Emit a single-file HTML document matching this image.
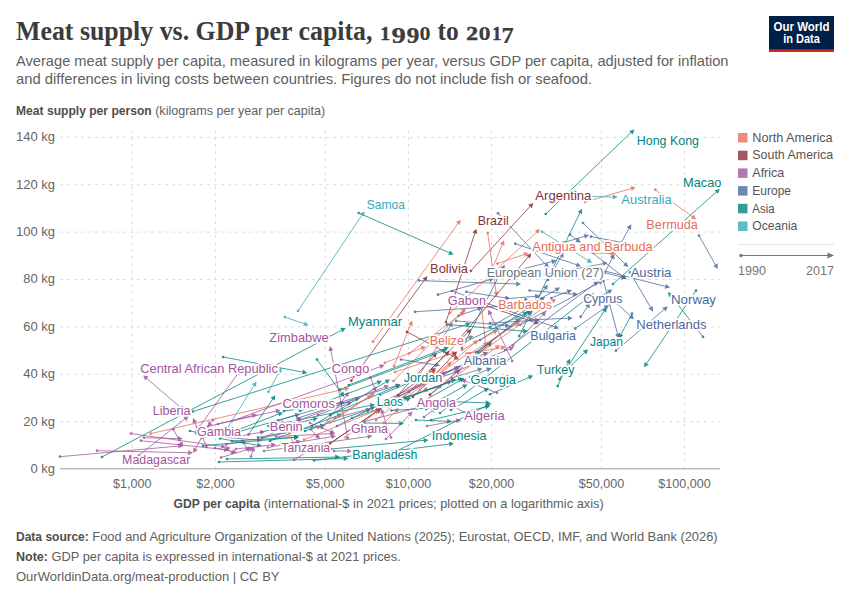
<!DOCTYPE html>
<html><head><meta charset="utf-8"><title>Meat supply vs. GDP per capita</title>
<style>
html,body{margin:0;padding:0;background:#fff;}
body{width:850px;height:600px;overflow:hidden;}
svg{display:block;font-family:"Liberation Sans",sans-serif;}
.t{font-family:"Liberation Serif",serif;}
</style></head><body>
<svg width="850" height="600" viewBox="0 0 850 600">
<rect width="850" height="600" fill="#fff"/>

<text class="t" font-weight="bold" fill="#3c3c3c" lengthAdjust="spacingAndGlyphs" x="16" y="39.6" font-size="26.6" textLength="356.5">Meat supply vs. GDP per capita,</text>
<text class="t" font-weight="bold" fill="#3c3c3c" lengthAdjust="spacingAndGlyphs" x="380.2" y="39.6" font-size="18.4" textLength="9.8" stroke="#3c3c3c" stroke-width="0.55">1</text>
<text class="t" font-weight="bold" fill="#3c3c3c" lengthAdjust="spacingAndGlyphs" x="391.5" y="43.2" font-size="23.8" textLength="14.4" stroke="#3c3c3c" stroke-width="0.2">9</text>
<text class="t" font-weight="bold" fill="#3c3c3c" lengthAdjust="spacingAndGlyphs" x="406.5" y="43.2" font-size="23.8" textLength="13" stroke="#3c3c3c" stroke-width="0.2">9</text>
<text class="t" font-weight="bold" fill="#3c3c3c" lengthAdjust="spacingAndGlyphs" x="419.6" y="39.6" font-size="26.6" textLength="11">o</text>
<text class="t" font-weight="bold" fill="#3c3c3c" lengthAdjust="spacingAndGlyphs" x="437.6" y="39.6" font-size="26.6" textLength="21.2">to</text>
<text class="t" font-weight="bold" fill="#3c3c3c" lengthAdjust="spacingAndGlyphs" x="466.2" y="39.6" font-size="18.4" textLength="11.8" stroke="#3c3c3c" stroke-width="0.55">2</text>
<text class="t" font-weight="bold" fill="#3c3c3c" lengthAdjust="spacingAndGlyphs" x="478.6" y="39.6" font-size="26.6" textLength="12.2">o</text>
<text class="t" font-weight="bold" fill="#3c3c3c" lengthAdjust="spacingAndGlyphs" x="492.2" y="39.6" font-size="18.4" textLength="9" stroke="#3c3c3c" stroke-width="0.55">1</text>
<text class="t" font-weight="bold" fill="#3c3c3c" lengthAdjust="spacingAndGlyphs" x="501.6" y="43.2" font-size="23.8" textLength="12.2" stroke="#3c3c3c" stroke-width="0.2">7</text>
<text x="16" y="66.2" font-size="14.6" fill="#606060" textLength="712.5" lengthAdjust="spacingAndGlyphs">Average meat supply per capita, measured in kilograms per year, versus GDP per capita, adjusted for inflation</text>
<text x="16" y="84.1" font-size="14.6" fill="#606060" textLength="576" lengthAdjust="spacingAndGlyphs">and differences in living costs between countries. Figures do not include fish or seafood.</text>
<rect x="769" y="16" width="65" height="36" fill="#002147"/><rect x="769" y="49.3" width="65" height="2.7" fill="#ce261e"/>
<text x="801.5" y="30.5" font-size="12" font-weight="bold" fill="#fff" text-anchor="middle" textLength="56" lengthAdjust="spacingAndGlyphs">Our World</text>
<text x="801.5" y="42.5" font-size="12" font-weight="bold" fill="#fff" text-anchor="middle" textLength="36.6" lengthAdjust="spacingAndGlyphs">in Data</text>
<text x="16" y="115" font-size="12.8" font-weight="bold" fill="#4e4e4e" textLength="135.7" lengthAdjust="spacingAndGlyphs">Meat supply per person</text>
<text x="155.2" y="115" font-size="12.8" fill="#606060" textLength="170" lengthAdjust="spacingAndGlyphs">(kilograms per year per capita)</text>
<line x1="60" x2="720" y1="137.3" y2="137.3" stroke="#ddd" stroke-width="1" stroke-dasharray="3,4"/>
<text x="55" y="141.2" font-size="13" fill="#666" text-anchor="end">140 kg</text>
<line x1="60" x2="720" y1="184.7" y2="184.7" stroke="#ddd" stroke-width="1" stroke-dasharray="3,4"/>
<text x="55" y="188.6" font-size="13" fill="#666" text-anchor="end">120 kg</text>
<line x1="60" x2="720" y1="232.1" y2="232.1" stroke="#ddd" stroke-width="1" stroke-dasharray="3,4"/>
<text x="55" y="236.0" font-size="13" fill="#666" text-anchor="end">100 kg</text>
<line x1="60" x2="720" y1="279.5" y2="279.5" stroke="#ddd" stroke-width="1" stroke-dasharray="3,4"/>
<text x="55" y="283.4" font-size="13" fill="#666" text-anchor="end">80 kg</text>
<line x1="60" x2="720" y1="326.9" y2="326.9" stroke="#ddd" stroke-width="1" stroke-dasharray="3,4"/>
<text x="55" y="330.8" font-size="13" fill="#666" text-anchor="end">60 kg</text>
<line x1="60" x2="720" y1="374.3" y2="374.3" stroke="#ddd" stroke-width="1" stroke-dasharray="3,4"/>
<text x="55" y="378.2" font-size="13" fill="#666" text-anchor="end">40 kg</text>
<line x1="60" x2="720" y1="421.7" y2="421.7" stroke="#ddd" stroke-width="1" stroke-dasharray="3,4"/>
<text x="55" y="425.6" font-size="13" fill="#666" text-anchor="end">20 kg</text>
<text x="55" y="473.0" font-size="13" fill="#666" text-anchor="end">0 kg</text>
<line x1="132.3" x2="132.3" y1="130" y2="468.5" stroke="#ddd" stroke-width="1" stroke-dasharray="3,4"/>
<text x="132.3" y="488.1" font-size="12.6" fill="#666" text-anchor="middle">$1,000</text>
<line x1="215.4" x2="215.4" y1="130" y2="468.5" stroke="#ddd" stroke-width="1" stroke-dasharray="3,4"/>
<text x="215.4" y="488.1" font-size="12.6" fill="#666" text-anchor="middle">$2,000</text>
<line x1="325.3" x2="325.3" y1="130" y2="468.5" stroke="#ddd" stroke-width="1" stroke-dasharray="3,4"/>
<text x="325.3" y="488.1" font-size="12.6" fill="#666" text-anchor="middle">$5,000</text>
<line x1="408.4" x2="408.4" y1="130" y2="468.5" stroke="#ddd" stroke-width="1" stroke-dasharray="3,4"/>
<text x="408.4" y="488.1" font-size="12.6" fill="#666" text-anchor="middle">$10,000</text>
<line x1="491.5" x2="491.5" y1="130" y2="468.5" stroke="#ddd" stroke-width="1" stroke-dasharray="3,4"/>
<text x="491.5" y="488.1" font-size="12.6" fill="#666" text-anchor="middle">$20,000</text>
<line x1="601.4" x2="601.4" y1="130" y2="468.5" stroke="#ddd" stroke-width="1" stroke-dasharray="3,4"/>
<text x="601.4" y="488.1" font-size="12.6" fill="#666" text-anchor="middle">$50,000</text>
<line x1="684.5" x2="684.5" y1="130" y2="468.5" stroke="#ddd" stroke-width="1" stroke-dasharray="3,4"/>
<text x="684.5" y="488.1" font-size="12.6" fill="#666" text-anchor="middle">$100,000</text>
<line x1="60" x2="720" y1="468.8" y2="468.8" stroke="#999" stroke-width="1"/>
<text x="173.5" y="508" font-size="12.8" font-weight="bold" fill="#4e4e4e" textLength="86.6" lengthAdjust="spacingAndGlyphs">GDP per capita</text>
<text x="263.8" y="508" font-size="12.8" fill="#606060" textLength="340" lengthAdjust="spacingAndGlyphs">(international-$ in 2021 prices; plotted on a logarithmic axis)</text>
<g fill="none" stroke-width="0.9" stroke-linecap="round">
<g opacity="0.85"><path d="M545.7,214 L630.9,132.7" stroke="#00847E"/><circle cx="545.7" cy="214" r="1.35" fill="#00847E" stroke="none"/><path d="M634.4,129.4L632.7,134.5L629.2,130.9Z" fill="#00847E" stroke="none"/></g>
<g opacity="0.85"><path d="M613,284 L716.1,192.2" stroke="#00847E"/><circle cx="613" cy="284" r="1.35" fill="#00847E" stroke="none"/><path d="M719.7,189L717.8,194.1L714.5,190.3Z" fill="#00847E" stroke="none"/></g>
<g opacity="0.85"><path d="M655.3,189.7 L692.1,216.5" stroke="#E56E5A"/><circle cx="655.3" cy="189.7" r="1.35" fill="#E56E5A" stroke="none"/><path d="M696,219.3L690.6,218.5L693.6,214.5Z" fill="#E56E5A" stroke="none"/></g>
<g opacity="0.85"><path d="M585,202 L631.1,188.6" stroke="#E56E5A"/><circle cx="585" cy="202" r="1.35" fill="#E56E5A" stroke="none"/><path d="M635.7,187.3L631.8,191.0L630.4,186.2Z" fill="#E56E5A" stroke="none"/></g>
<g opacity="0.85"><path d="M572,196 L612.9,196.9" stroke="#38AABA"/><circle cx="572" cy="196" r="1.35" fill="#38AABA" stroke="none"/><path d="M617.7,197L612.8,199.4L613.0,194.4Z" fill="#38AABA" stroke="none"/></g>
<g opacity="0.85"><path d="M699,235.6 L715.4,264.8" stroke="#4C6A9C"/><circle cx="699" cy="235.6" r="1.35" fill="#4C6A9C" stroke="none"/><path d="M717.8,269L713.3,266.0L717.6,263.6Z" fill="#4C6A9C" stroke="none"/></g>
<g opacity="0.85"><path d="M583,223 L624.9,263.7" stroke="#4C6A9C"/><circle cx="583" cy="223" r="1.35" fill="#4C6A9C" stroke="none"/><path d="M628.3,267L623.1,265.4L626.6,261.9Z" fill="#4C6A9C" stroke="none"/></g>
<g opacity="0.85"><path d="M470.7,271 L530.0,206.5" stroke="#883039"/><circle cx="470.7" cy="271" r="1.35" fill="#883039" stroke="none"/><path d="M533.3,203L531.9,208.2L528.2,204.8Z" fill="#883039" stroke="none"/></g>
<g opacity="0.85"><path d="M358.7,213 L449.2,252.7" stroke="#00847E"/><circle cx="358.7" cy="213" r="1.35" fill="#00847E" stroke="none"/><path d="M453.6,254.6L448.2,255.0L450.2,250.4Z" fill="#00847E" stroke="none"/></g>
<g opacity="0.85"><path d="M298,310.9 L361.9,215.2" stroke="#38AABA"/><circle cx="298" cy="310.9" r="1.35" fill="#38AABA" stroke="none"/><path d="M364.6,211.2L364.0,216.6L359.9,213.8Z" fill="#38AABA" stroke="none"/></g>
<g opacity="0.85"><path d="M284.9,317.1 L304.2,323.7" stroke="#38AABA"/><circle cx="284.9" cy="317.1" r="1.35" fill="#38AABA" stroke="none"/><path d="M308.7,325.3L303.3,326.1L305.0,321.4Z" fill="#38AABA" stroke="none"/></g>
<g opacity="0.85"><path d="M102,457 L341.5,330.2" stroke="#00847E"/><circle cx="102" cy="457" r="1.35" fill="#00847E" stroke="none"/><path d="M345.7,328L342.6,332.5L340.3,328.0Z" fill="#00847E" stroke="none"/></g>
<g opacity="0.85"><path d="M150.7,433.6 L344.6,389.1" stroke="#E56E5A"/><circle cx="150.7" cy="433.6" r="1.35" fill="#E56E5A" stroke="none"/><path d="M349.3,388L345.2,391.5L344.1,386.6Z" fill="#E56E5A" stroke="none"/></g>
<g opacity="0.85"><path d="M223.2,357 L302.6,372.1" stroke="#00847E"/><circle cx="223.2" cy="357" r="1.35" fill="#00847E" stroke="none"/><path d="M307.3,373L302.1,374.6L303.1,369.6Z" fill="#00847E" stroke="none"/></g>
<g opacity="0.85"><path d="M193,411.5 L466.1,324.8" stroke="#00847E"/><circle cx="193" cy="411.5" r="1.35" fill="#00847E" stroke="none"/><path d="M470.7,323.3L466.9,327.1L465.4,322.4Z" fill="#00847E" stroke="none"/></g>
<g opacity="0.85"><path d="M317,359.6 L341.5,393.0" stroke="#00847E"/><circle cx="317" cy="359.6" r="1.35" fill="#00847E" stroke="none"/><path d="M344.3,396.9L339.4,394.5L343.5,391.6Z" fill="#00847E" stroke="none"/></g>
<g opacity="0.85"><path d="M268.4,391.8 L279.2,371.8" stroke="#38AABA"/><circle cx="268.4" cy="391.8" r="1.35" fill="#38AABA" stroke="none"/><path d="M281.5,367.6L281.4,373.0L277.0,370.6Z" fill="#38AABA" stroke="none"/></g>
<g opacity="0.85"><path d="M228,427 L253.9,385.7" stroke="#38AABA"/><circle cx="228" cy="427" r="1.35" fill="#38AABA" stroke="none"/><path d="M256.5,381.6L256.1,387.0L251.8,384.3Z" fill="#38AABA" stroke="none"/></g>
<g opacity="0.85"><path d="M248.5,434.5 L272.6,399.2" stroke="#00847E"/><circle cx="248.5" cy="434.5" r="1.35" fill="#00847E" stroke="none"/><path d="M275.3,395.2L274.7,400.6L270.5,397.8Z" fill="#00847E" stroke="none"/></g>
<g opacity="0.85"><path d="M498,213.3 L545.7,264.5" stroke="#4C6A9C"/><circle cx="498" cy="213.3" r="1.35" fill="#4C6A9C" stroke="none"/><path d="M549,268L543.9,266.2L547.6,262.8Z" fill="#4C6A9C" stroke="none"/></g>
<g opacity="0.85"><path d="M487.7,233 L496.0,291.9" stroke="#E56E5A"/><circle cx="487.7" cy="233" r="1.35" fill="#E56E5A" stroke="none"/><path d="M496.7,296.7L493.6,292.3L498.5,291.6Z" fill="#E56E5A" stroke="none"/></g>
<g opacity="0.85"><path d="M542,231.7 L587.9,260.3" stroke="#38AABA"/><circle cx="542" cy="231.7" r="1.35" fill="#38AABA" stroke="none"/><path d="M592,262.8L586.6,262.4L589.2,258.1Z" fill="#38AABA" stroke="none"/></g>
<g opacity="0.85"><path d="M570,234.7 L576.9,239.8" stroke="#4C6A9C"/><circle cx="570" cy="234.7" r="1.35" fill="#4C6A9C" stroke="none"/><path d="M580.7,242.7L575.4,241.8L578.4,237.8Z" fill="#4C6A9C" stroke="none"/></g>
<g opacity="0.85"><path d="M592.7,253 L610.5,253.5" stroke="#E56E5A"/><circle cx="592.7" cy="253" r="1.35" fill="#E56E5A" stroke="none"/><path d="M615.3,253.6L610.4,256.0L610.6,251.0Z" fill="#E56E5A" stroke="none"/></g>
<g opacity="0.85"><path d="M630,272.4 L650.6,307.4" stroke="#4C6A9C"/><circle cx="630" cy="272.4" r="1.35" fill="#4C6A9C" stroke="none"/><path d="M653,311.5L648.4,308.6L652.7,306.1Z" fill="#4C6A9C" stroke="none"/></g>
<g opacity="0.85"><path d="M703,336.8 L671.0,295.8" stroke="#00847E"/><circle cx="703" cy="336.8" r="1.35" fill="#00847E" stroke="none"/><path d="M668,292L672.9,294.2L669.0,297.3Z" fill="#00847E" stroke="none"/></g>
<g opacity="0.85"><path d="M696,290.7 L646.7,363.3" stroke="#00847E"/><circle cx="696" cy="290.7" r="1.35" fill="#00847E" stroke="none"/><path d="M644,367.3L644.6,361.9L648.8,364.7Z" fill="#00847E" stroke="none"/></g>
<g opacity="0.85"><path d="M616,350.7 L664.1,309.5" stroke="#4C6A9C"/><circle cx="616" cy="350.7" r="1.35" fill="#4C6A9C" stroke="none"/><path d="M667.7,306.4L665.7,311.4L662.4,307.6Z" fill="#4C6A9C" stroke="none"/></g>
<g opacity="0.85"><path d="M632,313.7 L621.1,334.3" stroke="#00847E"/><circle cx="632" cy="313.7" r="1.35" fill="#00847E" stroke="none"/><path d="M618.9,338.5L618.9,333.1L623.4,335.4Z" fill="#00847E" stroke="none"/></g>
<g opacity="0.85"><path d="M575.3,328.4 L605.1,307.7" stroke="#4C6A9C"/><circle cx="575.3" cy="328.4" r="1.35" fill="#4C6A9C" stroke="none"/><path d="M609,305L606.5,309.8L603.6,305.7Z" fill="#4C6A9C" stroke="none"/></g>
<g opacity="0.85"><path d="M373,341.7 L457.9,223.6" stroke="#E56E5A"/><circle cx="373" cy="341.7" r="1.35" fill="#E56E5A" stroke="none"/><path d="M460.7,219.7L459.9,225.1L455.9,222.1Z" fill="#E56E5A" stroke="none"/></g>
<g opacity="0.85"><path d="M351.3,380.7 L424.5,279.9" stroke="#883039"/><circle cx="351.3" cy="380.7" r="1.35" fill="#883039" stroke="none"/><path d="M427.3,276L426.5,281.4L422.5,278.4Z" fill="#883039" stroke="none"/></g>
<g opacity="0.85"><path d="M394,365.8 L410.5,325.0" stroke="#E56E5A"/><circle cx="394" cy="365.8" r="1.35" fill="#E56E5A" stroke="none"/><path d="M412.3,320.6L412.8,326.0L408.2,324.1Z" fill="#E56E5A" stroke="none"/></g>
<g opacity="0.85"><path d="M407,331.8 L454.8,357.2" stroke="#883039"/><circle cx="407" cy="331.8" r="1.35" fill="#883039" stroke="none"/><path d="M459,359.5L453.6,359.4L455.9,355.0Z" fill="#883039" stroke="none"/></g>
<g opacity="0.85"><path d="M519.2,336 L579.9,213.0" stroke="#00847E"/><circle cx="519.2" cy="336" r="1.35" fill="#00847E" stroke="none"/><path d="M582,208.7L582.1,214.1L577.6,211.9Z" fill="#00847E" stroke="none"/></g>
<g opacity="0.85"><path d="M559.5,379.1 L604.1,311.3" stroke="#00847E"/><circle cx="559.5" cy="379.1" r="1.35" fill="#00847E" stroke="none"/><path d="M606.7,307.3L606.2,312.7L602.0,309.9Z" fill="#00847E" stroke="none"/></g>
<g opacity="0.85"><path d="M557.7,386.1 L568.0,363.1" stroke="#00847E"/><circle cx="557.7" cy="386.1" r="1.35" fill="#00847E" stroke="none"/><path d="M570,358.7L570.3,364.1L565.8,362.1Z" fill="#00847E" stroke="none"/></g>
<g opacity="0.85"><path d="M566,370.5 L584.5,352.6" stroke="#00847E"/><circle cx="566" cy="370.5" r="1.35" fill="#00847E" stroke="none"/><path d="M588,349.3L586.3,354.4L582.8,350.8Z" fill="#00847E" stroke="none"/></g>
<g opacity="0.85"><path d="M440,413 L590.2,296.0" stroke="#00847E"/><circle cx="440" cy="413" r="1.35" fill="#00847E" stroke="none"/><path d="M594,293L591.8,297.9L588.7,294.0Z" fill="#00847E" stroke="none"/></g>
<g opacity="0.85"><path d="M490,394.3 L528.8,377.5" stroke="#00847E"/><circle cx="490" cy="394.3" r="1.35" fill="#00847E" stroke="none"/><path d="M533.2,375.6L529.8,379.8L527.8,375.2Z" fill="#00847E" stroke="none"/></g>
<g opacity="0.85"><path d="M497,392.8 L465.5,381.2" stroke="#A2559C"/><circle cx="497" cy="392.8" r="1.35" fill="#A2559C" stroke="none"/><path d="M461,379.5L466.4,378.8L464.6,383.5Z" fill="#A2559C" stroke="none"/></g>
<g opacity="0.85"><path d="M512.2,361 L490.2,314.1" stroke="#A2559C"/><circle cx="512.2" cy="361" r="1.35" fill="#A2559C" stroke="none"/><path d="M488.2,309.8L492.5,313.1L488.0,315.2Z" fill="#A2559C" stroke="none"/></g>
<g opacity="0.85"><path d="M446,322 L474.8,233.3" stroke="#883039"/><circle cx="446" cy="322" r="1.35" fill="#883039" stroke="none"/><path d="M476.3,228.7L477.2,234.0L472.4,232.5Z" fill="#883039" stroke="none"/></g>
<g opacity="0.85"><path d="M529.7,290.5 L573.2,294.2" stroke="#4C6A9C"/><circle cx="529.7" cy="290.5" r="1.35" fill="#4C6A9C" stroke="none"/><path d="M578,294.6L573.0,296.7L573.4,291.7Z" fill="#4C6A9C" stroke="none"/></g>
<g opacity="0.85"><path d="M452,291 L554.5,326.9" stroke="#4C6A9C"/><circle cx="452" cy="291" r="1.35" fill="#4C6A9C" stroke="none"/><path d="M559,328.5L553.6,329.3L555.3,324.6Z" fill="#4C6A9C" stroke="none"/></g>
<g opacity="0.85"><path d="M419,280.6 L516.2,283.9" stroke="#4C6A9C"/><circle cx="419" cy="280.6" r="1.35" fill="#4C6A9C" stroke="none"/><path d="M521,284.1L516.1,286.4L516.3,281.4Z" fill="#4C6A9C" stroke="none"/></g>
<g opacity="0.85"><path d="M415,311.8 L535.2,303.8" stroke="#4C6A9C"/><circle cx="415" cy="311.8" r="1.35" fill="#4C6A9C" stroke="none"/><path d="M540,303.5L535.4,306.3L535.0,301.3Z" fill="#4C6A9C" stroke="none"/></g>
<g opacity="0.85"><path d="M438,294.7 L489.4,279.8" stroke="#4C6A9C"/><circle cx="438" cy="294.7" r="1.35" fill="#4C6A9C" stroke="none"/><path d="M494,278.5L490.1,282.2L488.7,277.4Z" fill="#4C6A9C" stroke="none"/></g>
<g opacity="0.85"><path d="M466.3,291.8 L505.3,297.9" stroke="#4C6A9C"/><circle cx="466.3" cy="291.8" r="1.35" fill="#4C6A9C" stroke="none"/><path d="M510,298.6L504.9,300.3L505.6,295.4Z" fill="#4C6A9C" stroke="none"/></g>
<g opacity="0.85"><path d="M456.1,320.9 L505.2,325.5" stroke="#4C6A9C"/><circle cx="456.1" cy="320.9" r="1.35" fill="#4C6A9C" stroke="none"/><path d="M510,326L505.0,328.0L505.5,323.1Z" fill="#4C6A9C" stroke="none"/></g>
<g opacity="0.85"><path d="M458.4,315.9 L477.9,309.1" stroke="#4C6A9C"/><circle cx="458.4" cy="315.9" r="1.35" fill="#4C6A9C" stroke="none"/><path d="M482.4,307.5L478.7,311.4L477.0,306.7Z" fill="#4C6A9C" stroke="none"/></g>
<g opacity="0.85"><path d="M478,303 L534.5,322.3" stroke="#883039"/><circle cx="478" cy="303" r="1.35" fill="#883039" stroke="none"/><path d="M539,323.8L533.7,324.6L535.3,319.9Z" fill="#883039" stroke="none"/></g>
<g opacity="0.85"><path d="M596,268.8 L665.3,286.4" stroke="#4C6A9C"/><circle cx="596" cy="268.8" r="1.35" fill="#4C6A9C" stroke="none"/><path d="M670,287.6L664.7,288.8L666.0,284.0Z" fill="#4C6A9C" stroke="none"/></g>
<g opacity="0.85"><path d="M603.5,281 L617.5,333.9" stroke="#4C6A9C"/><circle cx="603.5" cy="281" r="1.35" fill="#4C6A9C" stroke="none"/><path d="M618.7,338.5L615.1,334.5L619.9,333.2Z" fill="#4C6A9C" stroke="none"/></g>
<g opacity="0.85"><path d="M616.7,303.3 L630.5,316.0" stroke="#4C6A9C"/><circle cx="616.7" cy="303.3" r="1.35" fill="#4C6A9C" stroke="none"/><path d="M634,319.3L628.8,317.9L632.2,314.2Z" fill="#4C6A9C" stroke="none"/></g>
<g opacity="0.85"><path d="M580.7,316.7 L587.3,307.0" stroke="#4C6A9C"/><circle cx="580.7" cy="316.7" r="1.35" fill="#4C6A9C" stroke="none"/><path d="M590,303L589.4,308.4L585.2,305.6Z" fill="#4C6A9C" stroke="none"/></g>
<g opacity="0.85"><path d="M489,277 L502.2,244.7" stroke="#E56E5A"/><circle cx="489" cy="277" r="1.35" fill="#E56E5A" stroke="none"/><path d="M504,240.3L504.5,245.7L499.9,243.8Z" fill="#E56E5A" stroke="none"/></g>
<g opacity="0.85"><path d="M497.4,263.6 L524.2,254.5" stroke="#E56E5A"/><circle cx="497.4" cy="263.6" r="1.35" fill="#E56E5A" stroke="none"/><path d="M528.7,253L525.0,256.9L523.4,252.2Z" fill="#E56E5A" stroke="none"/></g>
<g opacity="0.85"><path d="M450,313 L536.5,232.3" stroke="#E56E5A"/><circle cx="450" cy="313" r="1.35" fill="#E56E5A" stroke="none"/><path d="M540,229L538.2,234.1L534.8,230.4Z" fill="#E56E5A" stroke="none"/></g>
<g opacity="0.85"><path d="M395,372 L451.9,353.5" stroke="#E56E5A"/><circle cx="395" cy="372" r="1.35" fill="#E56E5A" stroke="none"/><path d="M456.5,352L452.7,355.9L451.2,351.1Z" fill="#E56E5A" stroke="none"/></g>
<g opacity="0.85"><path d="M409,353.5 L461.1,313.9" stroke="#E56E5A"/><circle cx="409" cy="353.5" r="1.35" fill="#E56E5A" stroke="none"/><path d="M464.9,311L462.6,315.9L459.6,311.9Z" fill="#E56E5A" stroke="none"/></g>
<g opacity="0.85"><path d="M456,343 L528.2,257.0" stroke="#883039"/><circle cx="456" cy="343" r="1.35" fill="#883039" stroke="none"/><path d="M531.3,253.3L530.1,258.6L526.3,255.4Z" fill="#883039" stroke="none"/></g>
<g opacity="0.85"><path d="M515.3,243.7 L576.5,264.7" stroke="#4C6A9C"/><circle cx="515.3" cy="243.7" r="1.35" fill="#4C6A9C" stroke="none"/><path d="M581,266.3L575.6,267.1L577.3,262.4Z" fill="#4C6A9C" stroke="none"/></g>
<g opacity="0.85"><path d="M462,348 L502.5,269.0" stroke="#4C6A9C"/><circle cx="462" cy="348" r="1.35" fill="#4C6A9C" stroke="none"/><path d="M504.7,264.7L504.7,270.1L500.3,267.8Z" fill="#4C6A9C" stroke="none"/></g>
<g opacity="0.85"><path d="M490,327 L555.8,290.0" stroke="#4C6A9C"/><circle cx="490" cy="327" r="1.35" fill="#4C6A9C" stroke="none"/><path d="M560,287.6L557.0,292.1L554.6,287.8Z" fill="#4C6A9C" stroke="none"/></g>
<g opacity="0.85"><path d="M536.5,300 L544.9,288.6" stroke="#4C6A9C"/><circle cx="536.5" cy="300" r="1.35" fill="#4C6A9C" stroke="none"/><path d="M547.8,284.7L547.0,290.0L542.9,287.1Z" fill="#4C6A9C" stroke="none"/></g>
<g opacity="0.85"><path d="M545,274.5 L603.0,263.7" stroke="#6e7581"/><circle cx="545" cy="274.5" r="1.35" fill="#6e7581" stroke="none"/><path d="M607.7,262.8L603.4,266.1L602.5,261.2Z" fill="#6e7581" stroke="none"/></g>
<g opacity="0.85"><path d="M591,236.6 L621.3,242.4 L628.9,228.5" stroke="#4C6A9C"/><circle cx="591" cy="236.6" r="1.35" fill="#4C6A9C" stroke="none"/><path d="M631.2,224.3L631.1,229.7L626.7,227.3Z" fill="#4C6A9C" stroke="none"/></g>
<g opacity="0.85"><path d="M604.5,273 L612.1,258.4" stroke="#4C6A9C"/><circle cx="604.5" cy="273" r="1.35" fill="#4C6A9C" stroke="none"/><path d="M614.3,254.1L614.3,259.5L609.9,257.2Z" fill="#4C6A9C" stroke="none"/></g>
<g opacity="0.85"><path d="M604.5,272.5 L621.8,277.2" stroke="#4C6A9C"/><circle cx="604.5" cy="272.5" r="1.35" fill="#4C6A9C" stroke="none"/><path d="M626.4,278.5L621.1,279.6L622.4,274.8Z" fill="#4C6A9C" stroke="none"/></g>
<g opacity="0.85"><path d="M563.3,242.7 L584.4,236.4" stroke="#4C6A9C"/><circle cx="563.3" cy="242.7" r="1.35" fill="#4C6A9C" stroke="none"/><path d="M589,235L585.1,238.8L583.7,234.0Z" fill="#4C6A9C" stroke="none"/></g>
<g opacity="0.85"><path d="M505,350 L594.5,284.2" stroke="#4C6A9C"/><circle cx="505" cy="350" r="1.35" fill="#4C6A9C" stroke="none"/><path d="M598.4,281.4L596.0,286.3L593.1,282.2Z" fill="#4C6A9C" stroke="none"/></g>
<g opacity="0.85"><path d="M520,325 L599.0,282.7" stroke="#4C6A9C"/><circle cx="520" cy="325" r="1.35" fill="#4C6A9C" stroke="none"/><path d="M603.2,280.4L600.2,284.9L597.8,280.5Z" fill="#4C6A9C" stroke="none"/></g>
<g opacity="0.85"><path d="M588,304 L608.3,292.0" stroke="#4C6A9C"/><circle cx="588" cy="304" r="1.35" fill="#4C6A9C" stroke="none"/><path d="M612.4,289.6L609.5,294.2L607.0,289.9Z" fill="#4C6A9C" stroke="none"/></g>
<g opacity="0.85"><path d="M530,320 L567.9,318.2" stroke="#4C6A9C"/><circle cx="530" cy="320" r="1.35" fill="#4C6A9C" stroke="none"/><path d="M572.7,318L568.0,320.7L567.8,315.7Z" fill="#4C6A9C" stroke="none"/></g>
<g opacity="0.85"><path d="M490,323.2 L535.2,320.3" stroke="#4C6A9C"/><circle cx="490" cy="323.2" r="1.35" fill="#4C6A9C" stroke="none"/><path d="M540,320L535.4,322.8L535.1,317.8Z" fill="#4C6A9C" stroke="none"/></g>
<g opacity="0.85"><path d="M470,360 L552.1,301.5" stroke="#E56E5A"/><circle cx="470" cy="360" r="1.35" fill="#E56E5A" stroke="none"/><path d="M556,298.7L553.5,303.5L550.6,299.5Z" fill="#E56E5A" stroke="none"/></g>
<g opacity="0.85"><path d="M513,345.5 L542.7,314.9" stroke="#A2559C"/><circle cx="513" cy="345.5" r="1.35" fill="#A2559C" stroke="none"/><path d="M546,311.5L544.5,316.7L540.9,313.2Z" fill="#A2559C" stroke="none"/></g>
<g opacity="0.85"><path d="M506.3,298.7 L535.2,296.4" stroke="#4C6A9C"/><circle cx="506.3" cy="298.7" r="1.35" fill="#4C6A9C" stroke="none"/><path d="M540,296L535.4,298.9L535.0,293.9Z" fill="#4C6A9C" stroke="none"/></g>
<g opacity="0.85"><path d="M525.6,299.3 L547.6,308.2" stroke="#4C6A9C"/><circle cx="525.6" cy="299.3" r="1.35" fill="#4C6A9C" stroke="none"/><path d="M552,310L546.6,310.5L548.5,305.9Z" fill="#4C6A9C" stroke="none"/></g>
<g opacity="0.85"><path d="M551.3,298 L567.5,291.7" stroke="#4C6A9C"/><circle cx="551.3" cy="298" r="1.35" fill="#4C6A9C" stroke="none"/><path d="M572,290L568.4,294.1L566.6,289.4Z" fill="#4C6A9C" stroke="none"/></g>
<g opacity="0.85"><path d="M398,395 L433.7,356.2" stroke="#883039"/><circle cx="398" cy="395" r="1.35" fill="#883039" stroke="none"/><path d="M437,352.7L435.6,357.9L431.9,354.5Z" fill="#883039" stroke="none"/></g>
<g opacity="0.85"><path d="M409,392 L446.1,354.2" stroke="#883039"/><circle cx="409" cy="392" r="1.35" fill="#883039" stroke="none"/><path d="M449.5,350.8L447.9,356.0L444.4,352.5Z" fill="#883039" stroke="none"/></g>
<g opacity="0.85"><path d="M413,397 L453.7,355.0" stroke="#883039"/><circle cx="413" cy="397" r="1.35" fill="#883039" stroke="none"/><path d="M457,351.5L455.5,356.7L451.9,353.2Z" fill="#883039" stroke="none"/></g>
<g opacity="0.85"><path d="M418,382 L467.9,332.5" stroke="#883039"/><circle cx="418" cy="382" r="1.35" fill="#883039" stroke="none"/><path d="M471.3,329.1L469.7,334.3L466.1,330.7Z" fill="#883039" stroke="none"/></g>
<g opacity="0.85"><path d="M325,447 L377.0,411.2" stroke="#883039"/><circle cx="325" cy="447" r="1.35" fill="#883039" stroke="none"/><path d="M381,408.5L378.5,413.3L375.6,409.2Z" fill="#883039" stroke="none"/></g>
<g opacity="0.85"><path d="M420,374 L450.0,326.2" stroke="#A2559C"/><circle cx="420" cy="374" r="1.35" fill="#A2559C" stroke="none"/><path d="M452.6,322.1L452.2,327.5L447.9,324.8Z" fill="#A2559C" stroke="none"/></g>
<g opacity="0.85"><path d="M432,377 L454.5,368.7" stroke="#4C6A9C"/><circle cx="432" cy="377" r="1.35" fill="#4C6A9C" stroke="none"/><path d="M459,367L455.4,371.0L453.6,366.3Z" fill="#4C6A9C" stroke="none"/></g>
<g opacity="0.85"><path d="M434,379.5 L456.4,372.0" stroke="#4C6A9C"/><circle cx="434" cy="379.5" r="1.35" fill="#4C6A9C" stroke="none"/><path d="M461,370.5L457.2,374.4L455.7,369.6Z" fill="#4C6A9C" stroke="none"/></g>
<g opacity="0.85"><path d="M481,301 L485.4,342.4" stroke="#E56E5A"/><circle cx="481" cy="301" r="1.35" fill="#E56E5A" stroke="none"/><path d="M485.9,347.2L482.9,342.7L487.9,342.2Z" fill="#E56E5A" stroke="none"/></g>
<g opacity="0.85"><path d="M470,353 L501.1,347.8" stroke="#E56E5A"/><circle cx="470" cy="353" r="1.35" fill="#E56E5A" stroke="none"/><path d="M505.8,347L501.5,350.3L500.7,345.3Z" fill="#E56E5A" stroke="none"/></g>
<g opacity="0.85"><path d="M463,339.8 L469.1,337.7" stroke="#6e7581"/><circle cx="463" cy="339.8" r="1.35" fill="#6e7581" stroke="none"/><path d="M473.6,336.1L469.9,340.0L468.2,335.3Z" fill="#6e7581" stroke="none"/></g>
<g opacity="0.85"><path d="M452,378 L477.9,369.9" stroke="#6e7581"/><circle cx="452" cy="378" r="1.35" fill="#6e7581" stroke="none"/><path d="M482.5,368.5L478.7,372.3L477.2,367.5Z" fill="#6e7581" stroke="none"/></g>
<g opacity="0.85"><path d="M470,377 L487.1,369.9" stroke="#4C6A9C"/><circle cx="470" cy="377" r="1.35" fill="#4C6A9C" stroke="none"/><path d="M491.5,368L488.0,372.2L486.1,367.5Z" fill="#4C6A9C" stroke="none"/></g>
<g opacity="0.85"><path d="M376,420 L432.3,373.1" stroke="#E56E5A"/><circle cx="376" cy="420" r="1.35" fill="#E56E5A" stroke="none"/><path d="M436,370L433.9,375.0L430.7,371.2Z" fill="#E56E5A" stroke="none"/></g>
<g opacity="0.85"><path d="M388,407 L448.1,364.8" stroke="#E56E5A"/><circle cx="388" cy="407" r="1.35" fill="#E56E5A" stroke="none"/><path d="M452,362L449.5,366.8L446.6,362.7Z" fill="#E56E5A" stroke="none"/></g>
<g opacity="0.85"><path d="M420,390 L474.4,343.1" stroke="#E56E5A"/><circle cx="420" cy="390" r="1.35" fill="#E56E5A" stroke="none"/><path d="M478,340L476.0,345.0L472.7,341.2Z" fill="#E56E5A" stroke="none"/></g>
<g opacity="0.85"><path d="M430,394 L496.1,347.8" stroke="#E56E5A"/><circle cx="430" cy="394" r="1.35" fill="#E56E5A" stroke="none"/><path d="M500,345L497.5,349.8L494.6,345.7Z" fill="#E56E5A" stroke="none"/></g>
<g opacity="0.85"><path d="M402,400 L466.1,354.8" stroke="#E56E5A"/><circle cx="402" cy="400" r="1.35" fill="#E56E5A" stroke="none"/><path d="M470,352L467.5,356.8L464.6,352.7Z" fill="#E56E5A" stroke="none"/></g>
<g opacity="0.85"><path d="M430,395 L488.4,345.1" stroke="#883039"/><circle cx="430" cy="395" r="1.35" fill="#883039" stroke="none"/><path d="M492,342L490.0,347.0L486.7,343.2Z" fill="#883039" stroke="none"/></g>
<g opacity="0.85"><path d="M392,400 L456.7,368.1" stroke="#A2559C"/><circle cx="392" cy="400" r="1.35" fill="#A2559C" stroke="none"/><path d="M461,366L457.8,370.4L455.6,365.9Z" fill="#A2559C" stroke="none"/></g>
<g opacity="0.85"><path d="M455,372 L509.6,348.9" stroke="#A2559C"/><circle cx="455" cy="372" r="1.35" fill="#A2559C" stroke="none"/><path d="M514,347L510.6,351.2L508.6,346.6Z" fill="#A2559C" stroke="none"/></g>
<g opacity="0.85"><path d="M447,324.5 L523.2,331.1" stroke="#00847E"/><circle cx="447" cy="324.5" r="1.35" fill="#00847E" stroke="none"/><path d="M528,331.5L523.0,333.6L523.4,328.6Z" fill="#00847E" stroke="none"/></g>
<g opacity="0.85"><path d="M478,352 L527.2,313.3" stroke="#00847E"/><circle cx="478" cy="352" r="1.35" fill="#00847E" stroke="none"/><path d="M531,310.3L528.8,315.2L525.7,311.3Z" fill="#00847E" stroke="none"/></g>
<g opacity="0.85"><path d="M399,396 L483.7,354.1" stroke="#4C6A9C"/><circle cx="399" cy="396" r="1.35" fill="#4C6A9C" stroke="none"/><path d="M488,352L484.8,356.4L482.6,351.9Z" fill="#4C6A9C" stroke="none"/></g>
<g opacity="0.85"><path d="M222,437 L257.2,440.1" stroke="#A2559C"/><circle cx="222" cy="437" r="1.35" fill="#A2559C" stroke="none"/><path d="M262,440.5L257.0,442.6L257.4,437.6Z" fill="#A2559C" stroke="none"/></g>
<g opacity="0.85"><path d="M226,444.5 L241.3,441.8" stroke="#A2559C"/><circle cx="226" cy="444.5" r="1.35" fill="#A2559C" stroke="none"/><path d="M246,441L241.7,444.3L240.8,439.4Z" fill="#A2559C" stroke="none"/></g>
<g opacity="0.85"><path d="M215,448 L232.3,451.5" stroke="#A2559C"/><circle cx="215" cy="448" r="1.35" fill="#A2559C" stroke="none"/><path d="M237,452.5L231.8,454.0L232.8,449.1Z" fill="#A2559C" stroke="none"/></g>
<g opacity="0.85"><path d="M232,453 L228.8,449.5" stroke="#A2559C"/><circle cx="232" cy="453" r="1.35" fill="#A2559C" stroke="none"/><path d="M225.5,446L230.6,447.8L226.9,451.2Z" fill="#A2559C" stroke="none"/></g>
<g opacity="0.85"><path d="M262,438 L295.3,431.0" stroke="#A2559C"/><circle cx="262" cy="438" r="1.35" fill="#A2559C" stroke="none"/><path d="M300,430L295.8,433.4L294.8,428.5Z" fill="#A2559C" stroke="none"/></g>
<g opacity="0.85"><path d="M268,447.5 L296.3,441.9" stroke="#A2559C"/><circle cx="268" cy="447.5" r="1.35" fill="#A2559C" stroke="none"/><path d="M301,441L296.8,444.4L295.8,439.5Z" fill="#A2559C" stroke="none"/></g>
<g opacity="0.85"><path d="M232,441 L294.2,437.3" stroke="#00847E"/><circle cx="232" cy="441" r="1.35" fill="#00847E" stroke="none"/><path d="M299,437L294.4,439.8L294.1,434.8Z" fill="#00847E" stroke="none"/></g>
<g opacity="0.85"><path d="M258,437.5 L320.3,425.9" stroke="#00847E"/><circle cx="258" cy="437.5" r="1.35" fill="#00847E" stroke="none"/><path d="M325,425L320.7,428.3L319.8,423.4Z" fill="#00847E" stroke="none"/></g>
<g opacity="0.85"><path d="M262,432 L313.3,419.2" stroke="#00847E"/><circle cx="262" cy="432" r="1.35" fill="#00847E" stroke="none"/><path d="M318,418L313.9,421.6L312.7,416.7Z" fill="#00847E" stroke="none"/></g>
<g opacity="0.85"><path d="M270,441 L337.5,415.7" stroke="#00847E"/><circle cx="270" cy="441" r="1.35" fill="#00847E" stroke="none"/><path d="M342,414L338.4,418.0L336.6,413.3Z" fill="#00847E" stroke="none"/></g>
<g opacity="0.85"><path d="M276,436.5 L330.2,433.7" stroke="#A2559C"/><circle cx="276" cy="436.5" r="1.35" fill="#A2559C" stroke="none"/><path d="M335,433.5L330.3,436.2L330.1,431.2Z" fill="#A2559C" stroke="none"/></g>
<g opacity="0.85"><path d="M290,443.5 L331.3,436.8" stroke="#A2559C"/><circle cx="290" cy="443.5" r="1.35" fill="#A2559C" stroke="none"/><path d="M336,436L331.7,439.2L330.9,434.3Z" fill="#A2559C" stroke="none"/></g>
<g opacity="0.85"><path d="M305,431 L366.4,410.5" stroke="#00847E"/><circle cx="305" cy="431" r="1.35" fill="#00847E" stroke="none"/><path d="M371,409L367.2,412.9L365.7,408.1Z" fill="#00847E" stroke="none"/></g>
<g opacity="0.85"><path d="M318,415 L347.5,403.7" stroke="#A2559C"/><circle cx="318" cy="415" r="1.35" fill="#A2559C" stroke="none"/><path d="M352,402L348.4,406.0L346.6,401.4Z" fill="#A2559C" stroke="none"/></g>
<g opacity="0.85"><path d="M322,428 L346.1,395.8" stroke="#A2559C"/><circle cx="322" cy="428" r="1.35" fill="#A2559C" stroke="none"/><path d="M349,392L348.1,397.3L344.1,394.3Z" fill="#A2559C" stroke="none"/></g>
<g opacity="0.85"><path d="M330,415 L396.1,386.4" stroke="#00847E"/><circle cx="330" cy="415" r="1.35" fill="#00847E" stroke="none"/><path d="M400.5,384.5L397.1,388.7L395.1,384.1Z" fill="#00847E" stroke="none"/></g>
<g opacity="0.85"><path d="M335,418 L393.4,402.3" stroke="#A2559C"/><circle cx="335" cy="418" r="1.35" fill="#A2559C" stroke="none"/><path d="M398,401L394.0,404.7L392.7,399.8Z" fill="#A2559C" stroke="none"/></g>
<g opacity="0.85"><path d="M298,418 L355.4,399.5" stroke="#4C6A9C"/><circle cx="298" cy="418" r="1.35" fill="#4C6A9C" stroke="none"/><path d="M360,398L356.2,401.9L354.7,397.1Z" fill="#4C6A9C" stroke="none"/></g>
<g opacity="0.85"><path d="M318,428 L367.9,397.5" stroke="#E56E5A"/><circle cx="318" cy="428" r="1.35" fill="#E56E5A" stroke="none"/><path d="M372,395L369.2,399.6L366.6,395.4Z" fill="#E56E5A" stroke="none"/></g>
<g opacity="0.85"><path d="M352,418 L406.5,399.5" stroke="#00847E"/><circle cx="352" cy="418" r="1.35" fill="#00847E" stroke="none"/><path d="M411,398L407.3,401.9L405.7,397.2Z" fill="#00847E" stroke="none"/></g>
<g opacity="0.85"><path d="M500,274.5 L551.8,261.7" stroke="#4C6A9C"/><circle cx="500" cy="274.5" r="1.35" fill="#4C6A9C" stroke="none"/><path d="M556.5,260.6L552.4,264.2L551.2,259.3Z" fill="#4C6A9C" stroke="none"/></g>
<g opacity="0.85"><path d="M448,401.5 L485.7,402.8" stroke="#00847E"/><circle cx="448" cy="401.5" r="1.35" fill="#00847E" stroke="none"/><path d="M490.5,403L485.6,405.3L485.8,400.3Z" fill="#00847E" stroke="none"/></g>
<g opacity="0.85"><path d="M380,395 L415.6,379.9" stroke="#00847E"/><circle cx="380" cy="395" r="1.35" fill="#00847E" stroke="none"/><path d="M420,378L416.6,382.2L414.6,377.6Z" fill="#00847E" stroke="none"/></g>
<g opacity="0.85"><path d="M384,401 L442.6,374.0" stroke="#A2559C"/><circle cx="384" cy="401" r="1.35" fill="#A2559C" stroke="none"/><path d="M447,372L443.7,376.3L441.6,371.7Z" fill="#A2559C" stroke="none"/></g>
<g opacity="0.85"><path d="M392,404 L451.5,380.7" stroke="#00847E"/><circle cx="392" cy="404" r="1.35" fill="#00847E" stroke="none"/><path d="M456,379L452.4,383.1L450.6,378.4Z" fill="#00847E" stroke="none"/></g>
<g opacity="0.85"><path d="M394,398 L432.1,370.8" stroke="#883039"/><circle cx="394" cy="398" r="1.35" fill="#883039" stroke="none"/><path d="M436,368L433.5,372.8L430.6,368.8Z" fill="#883039" stroke="none"/></g>
<g opacity="0.85"><path d="M404,398 L447.5,382.6" stroke="#A2559C"/><circle cx="404" cy="398" r="1.35" fill="#A2559C" stroke="none"/><path d="M452,381L448.3,385.0L446.6,380.2Z" fill="#A2559C" stroke="none"/></g>
<g opacity="0.85"><path d="M440,387 L427.2,389.6" stroke="#6e7581"/><circle cx="440" cy="387" r="1.35" fill="#6e7581" stroke="none"/><path d="M422.5,390.5L426.7,387.1L427.7,392.0Z" fill="#6e7581" stroke="none"/></g>
<g opacity="0.85"><path d="M405,397.5 L458.5,379.5" stroke="#00847E"/><circle cx="405" cy="397.5" r="1.35" fill="#00847E" stroke="none"/><path d="M463,378L459.2,381.9L457.7,377.2Z" fill="#00847E" stroke="none"/></g>
<g opacity="0.85"><path d="M203.5,434 L195.5,448.8" stroke="#A2559C"/><circle cx="203.5" cy="434" r="1.35" fill="#A2559C" stroke="none"/><path d="M193.2,453L193.3,447.6L197.7,450.0Z" fill="#A2559C" stroke="none"/></g>
<g opacity="0.85"><path d="M445,402 L465.8,413.2" stroke="#A2559C"/><circle cx="445" cy="402" r="1.35" fill="#A2559C" stroke="none"/><path d="M470,415.5L464.6,415.4L467.0,411.0Z" fill="#A2559C" stroke="none"/></g>
<g opacity="0.85"><path d="M476,352 L529.1,313.8" stroke="#4C6A9C"/><circle cx="476" cy="352" r="1.35" fill="#4C6A9C" stroke="none"/><path d="M533,311L530.6,315.8L527.6,311.8Z" fill="#4C6A9C" stroke="none"/></g>
<g opacity="0.85"><path d="M470,358 L516.3,321.0" stroke="#4C6A9C"/><circle cx="470" cy="358" r="1.35" fill="#4C6A9C" stroke="none"/><path d="M520,318L517.8,323.0L514.7,319.0Z" fill="#4C6A9C" stroke="none"/></g>
<g opacity="0.85"><path d="M462,350 L493.8,332.3" stroke="#E56E5A"/><circle cx="462" cy="350" r="1.35" fill="#E56E5A" stroke="none"/><path d="M498,330L495.0,334.5L492.6,330.1Z" fill="#E56E5A" stroke="none"/></g>
<g opacity="0.85"><path d="M466,356 L515.9,324.6" stroke="#E56E5A"/><circle cx="466" cy="356" r="1.35" fill="#E56E5A" stroke="none"/><path d="M520,322L517.3,326.7L514.6,322.4Z" fill="#E56E5A" stroke="none"/></g>
<g opacity="0.85"><path d="M480,340 L541.0,299.6" stroke="#4C6A9C"/><circle cx="480" cy="340" r="1.35" fill="#4C6A9C" stroke="none"/><path d="M545,297L542.4,301.7L539.6,297.6Z" fill="#4C6A9C" stroke="none"/></g>
<g opacity="0.85"><path d="M465,342 L523.7,314.1" stroke="#00847E"/><circle cx="465" cy="342" r="1.35" fill="#00847E" stroke="none"/><path d="M528,312L524.7,316.3L522.6,311.8Z" fill="#00847E" stroke="none"/></g>
<g opacity="0.85"><path d="M590,251 L622.7,276.5" stroke="#4C6A9C"/><circle cx="590" cy="251" r="1.35" fill="#4C6A9C" stroke="none"/><path d="M626.5,279.5L621.2,278.5L624.3,274.6Z" fill="#4C6A9C" stroke="none"/></g>
<g opacity="0.85"><path d="M548,280 L561.1,256.7" stroke="#4C6A9C"/><circle cx="548" cy="280" r="1.35" fill="#4C6A9C" stroke="none"/><path d="M563.5,252.5L563.3,257.9L559.0,255.5Z" fill="#4C6A9C" stroke="none"/></g>
<g opacity="0.85"><path d="M187,413 L146.8,378.5" stroke="#A2559C"/><circle cx="187" cy="413" r="1.35" fill="#A2559C" stroke="none"/><path d="M143.2,375.4L148.5,376.6L145.2,380.4Z" fill="#A2559C" stroke="none"/></g>
<g opacity="0.85"><path d="M200,426 L237.7,373.9" stroke="#A2559C"/><circle cx="200" cy="426" r="1.35" fill="#A2559C" stroke="none"/><path d="M240.5,370L239.7,375.4L235.7,372.4Z" fill="#A2559C" stroke="none"/></g>
<g opacity="0.85"><path d="M139,455.3 L184.8,419.0" stroke="#A2559C"/><circle cx="139" cy="455.3" r="1.35" fill="#A2559C" stroke="none"/><path d="M188.6,416L186.4,420.9L183.3,417.0Z" fill="#A2559C" stroke="none"/></g>
<g opacity="0.85"><path d="M131,433.6 L221.2,446.3" stroke="#A2559C"/><circle cx="131" cy="433.6" r="1.35" fill="#A2559C" stroke="none"/><path d="M226,447L220.9,448.8L221.6,443.9Z" fill="#A2559C" stroke="none"/></g>
<g opacity="0.85"><path d="M144,437.7 L177.9,438.6" stroke="#A2559C"/><circle cx="144" cy="437.7" r="1.35" fill="#A2559C" stroke="none"/><path d="M182.7,438.7L177.8,441.1L178.0,436.1Z" fill="#A2559C" stroke="none"/></g>
<g opacity="0.85"><path d="M141,440.7 L224.2,449.5" stroke="#A2559C"/><circle cx="141" cy="440.7" r="1.35" fill="#A2559C" stroke="none"/><path d="M229,450L224.0,452.0L224.5,447.0Z" fill="#A2559C" stroke="none"/></g>
<g opacity="0.85"><path d="M60,456.7 L178.2,446.1" stroke="#A2559C"/><circle cx="60" cy="456.7" r="1.35" fill="#A2559C" stroke="none"/><path d="M183,445.7L178.4,448.6L178.0,443.6Z" fill="#A2559C" stroke="none"/></g>
<g opacity="0.85"><path d="M97,450.7 L188.2,452.7" stroke="#A2559C"/><circle cx="97" cy="450.7" r="1.35" fill="#A2559C" stroke="none"/><path d="M193,452.8L188.1,455.2L188.3,450.2Z" fill="#A2559C" stroke="none"/></g>
<g opacity="0.85"><path d="M173.3,429.3 L180.7,442.8" stroke="#A2559C"/><circle cx="173.3" cy="429.3" r="1.35" fill="#A2559C" stroke="none"/><path d="M183,447L178.5,444.0L182.9,441.6Z" fill="#A2559C" stroke="none"/></g>
<g opacity="0.85"><path d="M213,420 L210.6,422.8" stroke="#A2559C"/><circle cx="213" cy="420" r="1.35" fill="#A2559C" stroke="none"/><path d="M207.5,426.5L208.7,421.2L212.5,424.5Z" fill="#A2559C" stroke="none"/></g>
<g opacity="0.85"><path d="M197,427.5 L194.9,422.4" stroke="#A2559C"/><circle cx="197" cy="427.5" r="1.35" fill="#A2559C" stroke="none"/><path d="M193,418L197.2,421.5L192.6,423.4Z" fill="#A2559C" stroke="none"/></g>
<g opacity="0.85"><path d="M206.5,447 L202.9,438.4" stroke="#A2559C"/><circle cx="206.5" cy="447" r="1.35" fill="#A2559C" stroke="none"/><path d="M201,434L205.2,437.4L200.6,439.4Z" fill="#A2559C" stroke="none"/></g>
<g opacity="0.85"><path d="M208,426.5 L252.3,415.6" stroke="#A2559C"/><circle cx="208" cy="426.5" r="1.35" fill="#A2559C" stroke="none"/><path d="M257,414.5L252.9,418.1L251.7,413.2Z" fill="#A2559C" stroke="none"/></g>
<g opacity="0.85"><path d="M218,424 L275.9,411.2" stroke="#A2559C"/><circle cx="218" cy="424" r="1.35" fill="#A2559C" stroke="none"/><path d="M280.6,410.2L276.5,413.7L275.4,408.8Z" fill="#A2559C" stroke="none"/></g>
<g opacity="0.85"><path d="M221,457.5 L248.9,449.1" stroke="#A2559C"/><circle cx="221" cy="457.5" r="1.35" fill="#A2559C" stroke="none"/><path d="M253.5,447.7L249.6,451.5L248.2,446.7Z" fill="#A2559C" stroke="none"/></g>
<g opacity="0.85"><path d="M251,456.5 L252.6,451.1" stroke="#A2559C"/><circle cx="251" cy="456.5" r="1.35" fill="#A2559C" stroke="none"/><path d="M254,446.5L255.0,451.8L250.2,450.4Z" fill="#A2559C" stroke="none"/></g>
<g opacity="0.85"><path d="M244,443 L246.7,447.8" stroke="#A2559C"/><circle cx="244" cy="443" r="1.35" fill="#A2559C" stroke="none"/><path d="M249,452L244.5,449.0L248.9,446.6Z" fill="#A2559C" stroke="none"/></g>
<g opacity="0.85"><path d="M190,431 L195.3,432.1" stroke="#00847E"/><circle cx="190" cy="431" r="1.35" fill="#00847E" stroke="none"/><path d="M200,433L194.8,434.5L195.8,429.6Z" fill="#00847E" stroke="none"/></g>
<g opacity="0.85"><path d="M203,445.8 L294.2,437.4" stroke="#00847E"/><circle cx="203" cy="445.8" r="1.35" fill="#00847E" stroke="none"/><path d="M299,437L294.4,439.9L294.0,434.9Z" fill="#00847E" stroke="none"/></g>
<g opacity="0.85"><path d="M227,459 L335.2,457.1" stroke="#00847E"/><circle cx="227" cy="459" r="1.35" fill="#00847E" stroke="none"/><path d="M340,457L335.2,459.6L335.2,454.6Z" fill="#00847E" stroke="none"/></g>
<g opacity="0.85"><path d="M219,462 L343.7,458.6" stroke="#00847E"/><circle cx="219" cy="462" r="1.35" fill="#00847E" stroke="none"/><path d="M348.5,458.5L343.8,461.1L343.6,456.1Z" fill="#00847E" stroke="none"/></g>
<g opacity="0.85"><path d="M220,438.5 L257.3,445.2" stroke="#00847E"/><circle cx="220" cy="438.5" r="1.35" fill="#00847E" stroke="none"/><path d="M262,446L256.8,447.6L257.7,442.7Z" fill="#00847E" stroke="none"/></g>
<g opacity="0.85"><path d="M240,429 L278.5,414.2" stroke="#00847E"/><circle cx="240" cy="429" r="1.35" fill="#00847E" stroke="none"/><path d="M283,412.5L279.4,416.6L277.6,411.9Z" fill="#00847E" stroke="none"/></g>
<g opacity="0.85"><path d="M241,431 L295.4,415.3" stroke="#00847E"/><circle cx="241" cy="431" r="1.35" fill="#00847E" stroke="none"/><path d="M300,414L296.1,417.7L294.7,412.9Z" fill="#00847E" stroke="none"/></g>
<g opacity="0.85"><path d="M232,421 L380.0,366.7" stroke="#A2559C"/><circle cx="232" cy="421" r="1.35" fill="#A2559C" stroke="none"/><path d="M384.5,365L380.9,369.0L379.1,364.3Z" fill="#A2559C" stroke="none"/></g>
<g opacity="0.85"><path d="M347.8,438 L330.9,350.7" stroke="#A2559C"/><circle cx="347.8" cy="438" r="1.35" fill="#A2559C" stroke="none"/><path d="M330,346L333.4,350.2L328.5,351.2Z" fill="#A2559C" stroke="none"/></g>
<g opacity="0.85"><path d="M264,451 L367.7,436.7" stroke="#6e7581"/><circle cx="264" cy="451" r="1.35" fill="#6e7581" stroke="none"/><path d="M372.5,436L368.1,439.1L367.4,434.2Z" fill="#6e7581" stroke="none"/></g>
<g opacity="0.85"><path d="M294,459.8 L307.9,451.5" stroke="#A2559C"/><circle cx="294" cy="459.8" r="1.35" fill="#A2559C" stroke="none"/><path d="M312,449L309.2,453.6L306.6,449.3Z" fill="#A2559C" stroke="none"/></g>
<g opacity="0.85"><path d="M334,451 L347.2,451.1" stroke="#A2559C"/><circle cx="334" cy="451" r="1.35" fill="#A2559C" stroke="none"/><path d="M352,451.2L347.2,453.6L347.2,448.6Z" fill="#A2559C" stroke="none"/></g>
<g opacity="0.85"><path d="M304,439.8 L376.6,410.3" stroke="#E56E5A"/><circle cx="304" cy="439.8" r="1.35" fill="#E56E5A" stroke="none"/><path d="M381,408.5L377.5,412.6L375.6,408.0Z" fill="#E56E5A" stroke="none"/></g>
<g opacity="0.85"><path d="M294.5,445 L283.3,424.2" stroke="#E56E5A"/><circle cx="294.5" cy="445" r="1.35" fill="#E56E5A" stroke="none"/><path d="M281,420L285.5,423.0L281.1,425.4Z" fill="#E56E5A" stroke="none"/></g>
<g opacity="0.85"><path d="M260,440 L297.3,419.8" stroke="#A2559C"/><circle cx="260" cy="440" r="1.35" fill="#A2559C" stroke="none"/><path d="M301.5,417.5L298.5,422.0L296.1,417.6Z" fill="#A2559C" stroke="none"/></g>
<g opacity="0.85"><path d="M268.5,426 L370.3,405.4" stroke="#00847E"/><circle cx="268.5" cy="426" r="1.35" fill="#00847E" stroke="none"/><path d="M375,404.5L370.8,407.9L369.8,403.0Z" fill="#00847E" stroke="none"/></g>
<g opacity="0.85"><path d="M284,411 L340.2,403.2" stroke="#00847E"/><circle cx="284" cy="411" r="1.35" fill="#00847E" stroke="none"/><path d="M345,402.5L340.6,405.6L339.9,400.7Z" fill="#00847E" stroke="none"/></g>
<g opacity="0.85"><path d="M312,426 L385.9,382.0" stroke="#00847E"/><circle cx="312" cy="426" r="1.35" fill="#00847E" stroke="none"/><path d="M390,379.5L387.2,384.1L384.6,379.8Z" fill="#00847E" stroke="none"/></g>
<g opacity="0.85"><path d="M310,423 L330.6,431.6" stroke="#A2559C"/><circle cx="310" cy="423" r="1.35" fill="#A2559C" stroke="none"/><path d="M335,433.5L329.6,433.9L331.5,429.3Z" fill="#A2559C" stroke="none"/></g>
<g opacity="0.85"><path d="M311,429.5 L316.7,435.5" stroke="#A2559C"/><circle cx="311" cy="429.5" r="1.35" fill="#A2559C" stroke="none"/><path d="M320,439L314.9,437.2L318.5,433.8Z" fill="#A2559C" stroke="none"/></g>
<g opacity="0.85"><path d="M240,436 L260.3,432.4" stroke="#A2559C"/><circle cx="240" cy="436" r="1.35" fill="#A2559C" stroke="none"/><path d="M265,431.5L260.7,434.8L259.8,429.9Z" fill="#A2559C" stroke="none"/></g>
<g opacity="0.85"><path d="M236,449 L271.2,445.0" stroke="#A2559C"/><circle cx="236" cy="449" r="1.35" fill="#A2559C" stroke="none"/><path d="M276,444.5L271.5,447.5L271.0,442.6Z" fill="#A2559C" stroke="none"/></g>
<g opacity="0.85"><path d="M278,420.5 L395.9,385.9" stroke="#4C6A9C"/><circle cx="278" cy="420.5" r="1.35" fill="#4C6A9C" stroke="none"/><path d="M400.5,384.5L396.6,388.3L395.2,383.5Z" fill="#4C6A9C" stroke="none"/></g>
<g opacity="0.85"><path d="M337,426 L370.7,408.7" stroke="#4C6A9C"/><circle cx="337" cy="426" r="1.35" fill="#4C6A9C" stroke="none"/><path d="M375,406.5L371.9,410.9L369.6,406.5Z" fill="#4C6A9C" stroke="none"/></g>
<g opacity="0.85"><path d="M331,449 L423.7,440.4" stroke="#00847E"/><circle cx="331" cy="449" r="1.35" fill="#00847E" stroke="none"/><path d="M428.5,440L424.0,442.9L423.5,438.0Z" fill="#00847E" stroke="none"/></g>
<g opacity="0.85"><path d="M314,460.5 L449.2,444.1" stroke="#00847E"/><circle cx="314" cy="460.5" r="1.35" fill="#00847E" stroke="none"/><path d="M454,443.5L449.5,446.6L448.9,441.6Z" fill="#00847E" stroke="none"/></g>
<g opacity="0.85"><path d="M386,439 L409.2,415.0" stroke="#A2559C"/><circle cx="386" cy="439" r="1.35" fill="#A2559C" stroke="none"/><path d="M412.5,411.5L411.0,416.7L407.4,413.2Z" fill="#A2559C" stroke="none"/></g>
<g opacity="0.85"><path d="M391,437.5 L382.6,413.0" stroke="#A2559C"/><circle cx="391" cy="437.5" r="1.35" fill="#A2559C" stroke="none"/><path d="M381,408.5L384.9,412.2L380.2,413.9Z" fill="#A2559C" stroke="none"/></g>
<g opacity="0.85"><path d="M364.5,421.5 L415.4,408.2" stroke="#A2559C"/><circle cx="364.5" cy="421.5" r="1.35" fill="#A2559C" stroke="none"/><path d="M420,407L416.0,410.6L414.7,405.8Z" fill="#A2559C" stroke="none"/></g>
<g opacity="0.85"><path d="M364,423 L399.2,423.4" stroke="#00847E"/><circle cx="364" cy="423" r="1.35" fill="#00847E" stroke="none"/><path d="M404,423.5L399.2,425.9L399.2,420.9Z" fill="#00847E" stroke="none"/></g>
<g opacity="0.85"><path d="M330,443.5 L377.0,411.2" stroke="#883039"/><circle cx="330" cy="443.5" r="1.35" fill="#883039" stroke="none"/><path d="M381,408.5L378.5,413.3L375.6,409.2Z" fill="#883039" stroke="none"/></g>
<g opacity="0.85"><path d="M345.5,437.5 L375.3,412.6" stroke="#E56E5A"/><circle cx="345.5" cy="437.5" r="1.35" fill="#E56E5A" stroke="none"/><path d="M379,409.5L376.9,414.5L373.7,410.7Z" fill="#E56E5A" stroke="none"/></g>
<g opacity="0.85"><path d="M330,422.5 L371.0,395.6" stroke="#E56E5A"/><circle cx="330" cy="422.5" r="1.35" fill="#E56E5A" stroke="none"/><path d="M375,393L372.4,397.7L369.6,393.5Z" fill="#E56E5A" stroke="none"/></g>
<g opacity="0.85"><path d="M384,423 L395.6,411.4" stroke="#E56E5A"/><circle cx="384" cy="423" r="1.35" fill="#E56E5A" stroke="none"/><path d="M399,408L397.4,413.2L393.8,409.6Z" fill="#E56E5A" stroke="none"/></g>
<g opacity="0.85"><path d="M391.5,410.5 L425.2,408.3" stroke="#00847E"/><circle cx="391.5" cy="410.5" r="1.35" fill="#00847E" stroke="none"/><path d="M430,408L425.4,410.8L425.0,405.8Z" fill="#00847E" stroke="none"/></g>
<g opacity="0.85"><path d="M348.8,385 L444.5,348.7" stroke="#00847E"/><circle cx="348.8" cy="385" r="1.35" fill="#00847E" stroke="none"/><path d="M449,347L445.4,351.0L443.6,346.4Z" fill="#00847E" stroke="none"/></g>
<g opacity="0.85"><path d="M340,389.5 L442.5,351.2" stroke="#00847E"/><circle cx="340" cy="389.5" r="1.35" fill="#00847E" stroke="none"/><path d="M447,349.5L443.4,353.5L441.6,348.8Z" fill="#00847E" stroke="none"/></g>
<g opacity="0.85"><path d="M384.8,362.8 L421.5,348.3" stroke="#E56E5A"/><circle cx="384.8" cy="362.8" r="1.35" fill="#E56E5A" stroke="none"/><path d="M426,346.5L422.5,350.6L420.6,345.9Z" fill="#E56E5A" stroke="none"/></g>
<g opacity="0.85"><path d="M393.5,381 L462.6,311.5" stroke="#E56E5A"/><circle cx="393.5" cy="381" r="1.35" fill="#E56E5A" stroke="none"/><path d="M466,308.1L464.4,313.3L460.8,309.7Z" fill="#E56E5A" stroke="none"/></g>
<g opacity="0.85"><path d="M401,359.5 L435.3,364.8" stroke="#4C6A9C"/><circle cx="401" cy="359.5" r="1.35" fill="#4C6A9C" stroke="none"/><path d="M440,365.5L434.9,367.2L435.6,362.3Z" fill="#4C6A9C" stroke="none"/></g>
<g opacity="0.85"><path d="M370.5,377.5 L374.3,387.5" stroke="#A2559C"/><circle cx="370.5" cy="377.5" r="1.35" fill="#A2559C" stroke="none"/><path d="M376,392L372.0,388.4L376.6,386.6Z" fill="#A2559C" stroke="none"/></g>
<g opacity="0.85"><path d="M300,420 L384.5,387.2" stroke="#A2559C"/><circle cx="300" cy="420" r="1.35" fill="#A2559C" stroke="none"/><path d="M389,385.5L385.4,389.6L383.6,384.9Z" fill="#A2559C" stroke="none"/></g>
<g opacity="0.85"><path d="M300,411 L377.5,382.6" stroke="#00847E"/><circle cx="300" cy="411" r="1.35" fill="#00847E" stroke="none"/><path d="M382,381L378.4,385.0L376.6,380.3Z" fill="#00847E" stroke="none"/></g>
<g opacity="0.85"><path d="M416,420 L447.2,421.3" stroke="#00847E"/><circle cx="416" cy="420" r="1.35" fill="#00847E" stroke="none"/><path d="M452,421.5L447.1,423.8L447.3,418.8Z" fill="#00847E" stroke="none"/></g>
<g opacity="0.85"><path d="M431,420 L485.3,407.1" stroke="#00847E"/><circle cx="431" cy="420" r="1.35" fill="#00847E" stroke="none"/><path d="M490,406L485.9,409.5L484.8,404.7Z" fill="#00847E" stroke="none"/></g>
<g opacity="0.85"><path d="M427,426 L456.3,420.8" stroke="#A2559C"/><circle cx="427" cy="426" r="1.35" fill="#A2559C" stroke="none"/><path d="M461,420L456.7,423.3L455.8,418.4Z" fill="#A2559C" stroke="none"/></g>
<g opacity="0.85"><path d="M395,452 L486.7,405.7" stroke="#00847E"/><circle cx="395" cy="452" r="1.35" fill="#00847E" stroke="none"/><path d="M491,403.5L487.8,407.9L485.6,403.4Z" fill="#00847E" stroke="none"/></g>
<g opacity="0.85"><path d="M424,417 L432.2,410.9" stroke="#4C6A9C"/><circle cx="424" cy="417" r="1.35" fill="#4C6A9C" stroke="none"/><path d="M436,408L433.7,412.9L430.7,408.9Z" fill="#4C6A9C" stroke="none"/></g>
<g opacity="0.85"><path d="M451,410 L484.8,390.4" stroke="#00847E"/><circle cx="451" cy="410" r="1.35" fill="#00847E" stroke="none"/><path d="M489,388L486.1,392.6L483.6,388.2Z" fill="#00847E" stroke="none"/></g>
<g opacity="0.85"><path d="M420,403 L460.3,380.4" stroke="#00847E"/><circle cx="420" cy="403" r="1.35" fill="#00847E" stroke="none"/><path d="M464.5,378L461.5,382.5L459.1,378.2Z" fill="#00847E" stroke="none"/></g>
<g opacity="0.85"><path d="M425,408 L463.3,386.8" stroke="#00847E"/><circle cx="425" cy="408" r="1.35" fill="#00847E" stroke="none"/><path d="M467.5,384.5L464.5,389.0L462.1,384.6Z" fill="#00847E" stroke="none"/></g>
</g>
<g font-size="13.5" stroke="#fff" stroke-width="3.6" stroke-linejoin="round" paint-order="stroke" style="paint-order:stroke">
<text x="636.75" y="144.7" fill="#00847E" textLength="62.3" lengthAdjust="spacingAndGlyphs">Hong Kong</text>
<text x="683.05" y="187.0" fill="#00847E" textLength="38.3" lengthAdjust="spacingAndGlyphs">Macao</text>
<text x="621.35" y="203.5" fill="#38AABA" textLength="50.3" lengthAdjust="spacingAndGlyphs">Australia</text>
<text x="646.35" y="228.7" fill="#E56E5A" textLength="51.6" lengthAdjust="spacingAndGlyphs">Bermuda</text>
<text x="535.35" y="200.4" fill="#883039" textLength="56.0" lengthAdjust="spacingAndGlyphs">Argentina</text>
<text x="366.65" y="208.5" fill="#38AABA" textLength="38.3" lengthAdjust="spacingAndGlyphs">Samoa</text>
<text x="477.75" y="225.4" fill="#883039" textLength="30.9" lengthAdjust="spacingAndGlyphs">Brazil</text>
<text x="630.65" y="277.1" fill="#4C6A9C" textLength="40.7" lengthAdjust="spacingAndGlyphs">Austria</text>
<text x="671.05" y="303.5" fill="#4C6A9C" textLength="44.9" lengthAdjust="spacingAndGlyphs">Norway</text>
<text x="636.35" y="329.1" fill="#4C6A9C" textLength="70.3" lengthAdjust="spacingAndGlyphs">Netherlands</text>
<text x="583.15" y="302.5" fill="#4C6A9C" textLength="39.3" lengthAdjust="spacingAndGlyphs">Cyprus</text>
<text x="530.35" y="340.3" fill="#4C6A9C" textLength="45.6" lengthAdjust="spacingAndGlyphs">Bulgaria</text>
<text x="590.05" y="346.2" fill="#00847E" textLength="32.9" lengthAdjust="spacingAndGlyphs">Japan</text>
<text x="536.85" y="374.0" fill="#00847E" textLength="37.6" lengthAdjust="spacingAndGlyphs">Turkey</text>
<text x="430.05" y="273.1" fill="#883039" textLength="37.9" lengthAdjust="spacingAndGlyphs">Bolivia</text>
<text x="447.85" y="304.7" fill="#A2559C" textLength="38.1" lengthAdjust="spacingAndGlyphs">Gabon</text>
<text x="429.75" y="344.9" fill="#E56E5A" textLength="34.1" lengthAdjust="spacingAndGlyphs">Belize</text>
<text x="463.65" y="364.7" fill="#4C6A9C" textLength="42.6" lengthAdjust="spacingAndGlyphs">Albania</text>
<text x="470.55" y="384.0" fill="#00847E" textLength="45.3" lengthAdjust="spacingAndGlyphs">Georgia</text>
<text x="269.35" y="342.0" fill="#A2559C" textLength="59.3" lengthAdjust="spacingAndGlyphs">Zimbabwe</text>
<text x="140.25" y="372.9" fill="#A2559C" textLength="137.6" lengthAdjust="spacingAndGlyphs">Central African Republic</text>
<text x="152.65" y="415.1" fill="#A2559C" textLength="38.0" lengthAdjust="spacingAndGlyphs">Liberia</text>
<text x="197.05" y="436.4" fill="#A2559C" textLength="44.0" lengthAdjust="spacingAndGlyphs">Gambia</text>
<text x="122.05" y="464.0" fill="#A2559C" textLength="68.3" lengthAdjust="spacingAndGlyphs">Madagascar</text>
<text x="376.85" y="405.9" fill="#00847E" textLength="26.1" lengthAdjust="spacingAndGlyphs">Laos</text>
<text x="351.05" y="432.5" fill="#A2559C" textLength="36.9" lengthAdjust="spacingAndGlyphs">Ghana</text>
<text x="352.15" y="458.7" fill="#00847E" textLength="65.3" lengthAdjust="spacingAndGlyphs">Bangladesh</text>
<text x="348.05" y="325.7" fill="#00847E" textLength="54.0" lengthAdjust="spacingAndGlyphs">Myanmar</text>
<text x="331.75" y="373.1" fill="#A2559C" textLength="37.5" lengthAdjust="spacingAndGlyphs">Congo</text>
<text x="282.55" y="407.7" fill="#A2559C" textLength="52.3" lengthAdjust="spacingAndGlyphs">Comoros</text>
<text x="269.85" y="430.5" fill="#A2559C" textLength="32.8" lengthAdjust="spacingAndGlyphs">Benin</text>
<text x="281.35" y="452.2" fill="#A2559C" textLength="48.8" lengthAdjust="spacingAndGlyphs">Tanzania</text>
<text x="403.85" y="381.7" fill="#00847E" textLength="38.3" lengthAdjust="spacingAndGlyphs">Jordan</text>
<text x="416.85" y="407.2" fill="#A2559C" textLength="39.3" lengthAdjust="spacingAndGlyphs">Angola</text>
<text x="464.35" y="419.7" fill="#A2559C" textLength="40.3" lengthAdjust="spacingAndGlyphs">Algeria</text>
<text x="431.85" y="439.7" fill="#00847E" textLength="54.8" lengthAdjust="spacingAndGlyphs">Indonesia</text>
<text x="498.15" y="308.7" fill="#E56E5A" textLength="53.8" lengthAdjust="spacingAndGlyphs">Barbados</text>
<text x="486.65" y="277.3" fill="#6e7581" textLength="117.0" lengthAdjust="spacingAndGlyphs">European Union (27)</text>
<text x="532.35" y="251.3" fill="#E56E5A" textLength="120.3" lengthAdjust="spacingAndGlyphs">Antigua and Barbuda</text>
</g>
<rect x="738" y="133.0" width="9.5" height="9.5" fill="#E56E5A" opacity="0.8"/>
<text x="752.3" y="141.7" font-size="12.8" fill="#555" textLength="80.3" lengthAdjust="spacingAndGlyphs">North America</text>
<rect x="738" y="150.7" width="9.5" height="9.5" fill="#883039" opacity="0.8"/>
<text x="752.3" y="159.4" font-size="12.8" fill="#555" textLength="80.8" lengthAdjust="spacingAndGlyphs">South America</text>
<rect x="738" y="168.4" width="9.5" height="9.5" fill="#A2559C" opacity="0.8"/>
<text x="752.3" y="177.1" font-size="12.8" fill="#555" textLength="32" lengthAdjust="spacingAndGlyphs">Africa</text>
<rect x="738" y="186.1" width="9.5" height="9.5" fill="#4C6A9C" opacity="0.8"/>
<text x="752.3" y="194.8" font-size="12.8" fill="#555" textLength="38.7" lengthAdjust="spacingAndGlyphs">Europe</text>
<rect x="738" y="203.8" width="9.5" height="9.5" fill="#00847E" opacity="0.8"/>
<text x="752.3" y="212.5" font-size="12.8" fill="#555" textLength="22.3" lengthAdjust="spacingAndGlyphs">Asia</text>
<rect x="738" y="221.5" width="9.5" height="9.5" fill="#38AABA" opacity="0.8"/>
<text x="752.3" y="230.2" font-size="12.8" fill="#555" textLength="45" lengthAdjust="spacingAndGlyphs">Oceania</text>
<line x1="738" x2="834" y1="244.5" y2="244.5" stroke="#e5e5e5" stroke-width="1"/>
<line x1="741" x2="829" y1="255.5" y2="255.5" stroke="#777" stroke-width="1"/>
<circle cx="741" cy="255.5" r="1.8" fill="#777"/>
<path d="M834,255.5L827.5,252.5L827.5,258.5Z" fill="#777"/>
<text x="738" y="275" font-size="12.6" fill="#777">1990</text>
<text x="834" y="275" font-size="12.6" fill="#777" text-anchor="end">2017</text>
<text x="16" y="541" font-size="12.8" font-weight="bold" fill="#4e4e4e" textLength="72.8" lengthAdjust="spacingAndGlyphs">Data source:</text>
<text x="92.3" y="541" font-size="12.8" fill="#606060" textLength="625.3" lengthAdjust="spacingAndGlyphs">Food and Agriculture Organization of the United Nations (2025); Eurostat, OECD, IMF, and World Bank (2026)</text>
<text x="16" y="561" font-size="12.8" font-weight="bold" fill="#4e4e4e" textLength="32" lengthAdjust="spacingAndGlyphs">Note:</text>
<text x="51.5" y="561" font-size="12.8" fill="#606060" textLength="349.2" lengthAdjust="spacingAndGlyphs">GDP per capita is expressed in international-$ at 2021 prices.</text>
<text x="16" y="581" font-size="12.8" fill="#606060" textLength="263.5" lengthAdjust="spacingAndGlyphs">OurWorldinData.org/meat-production | CC BY</text>
</svg></body></html>
